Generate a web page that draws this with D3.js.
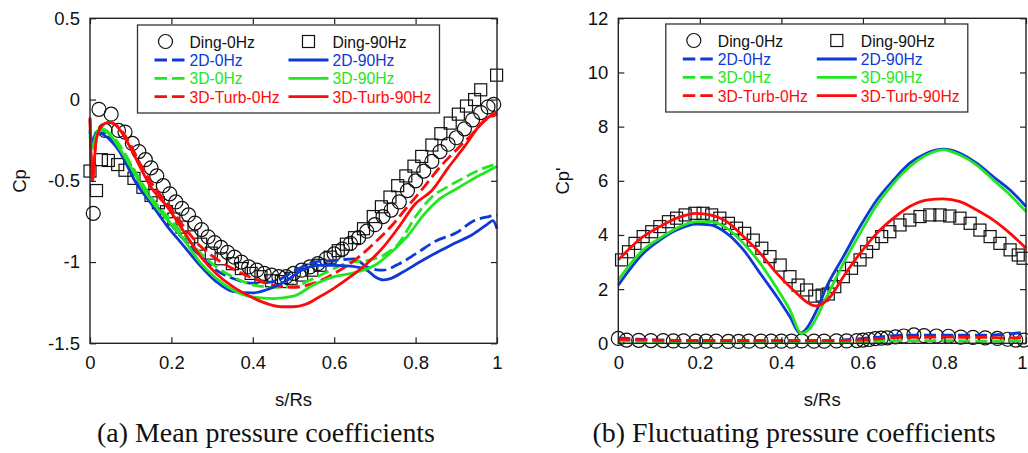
<!DOCTYPE html>
<html><head><meta charset="utf-8">
<script src="https://cdn.jsdelivr.net/npm/d3@7"></script>
<style>body{margin:0;background:#fff}svg{display:block}</style>
</head><body>
<svg id="chart" width="1028" height="453"></svg>
<script>
// ---------- DATA ----------
const xTicks = [0, 0.2, 0.4, 0.6, 0.8, 1];
const meanYTicks = [0.5, 0, -0.5, -1, -1.5];
const flucYTicks = [0, 2, 4, 6, 8, 10, 12];

// (a) Mean pressure coefficients, [s/Rs, Cp]
const meanDing0 = [[0.008,-0.70],[0.022,-0.06],[0.037,-0.19],[0.052,-0.09],[0.07,-0.19],[0.086,-0.20],[0.104,-0.27],[0.12,-0.32],[0.136,-0.37],[0.15,-0.42],[0.164,-0.47],[0.18,-0.53],[0.196,-0.58],[0.211,-0.63],[0.226,-0.67],[0.242,-0.71],[0.258,-0.76],[0.274,-0.80],[0.29,-0.845],[0.306,-0.88],[0.322,-0.91],[0.338,-0.94],[0.355,-0.97],[0.372,-1.00],[0.39,-1.03],[0.41,-1.05],[0.428,-1.07],[0.446,-1.08],[0.464,-1.09],[0.482,-1.09],[0.50,-1.07],[0.52,-1.05],[0.54,-1.03],[0.56,-1.01],[0.58,-0.98],[0.60,-0.95],[0.62,-0.92],[0.64,-0.885],[0.66,-0.85],[0.68,-0.81],[0.70,-0.77],[0.72,-0.72],[0.74,-0.68],[0.76,-0.63],[0.78,-0.56],[0.80,-0.50],[0.82,-0.44],[0.84,-0.38],[0.86,-0.32],[0.88,-0.275],[0.90,-0.235],[0.92,-0.18],[0.94,-0.125],[0.96,-0.08],[0.978,-0.045],[0.992,-0.03]];
const meanDing90 = [[0.0,-0.44],[0.016,-0.56],[0.028,-0.37],[0.045,-0.375],[0.068,-0.40],[0.086,-0.435],[0.108,-0.485],[0.13,-0.54],[0.15,-0.59],[0.168,-0.635],[0.188,-0.69],[0.206,-0.735],[0.226,-0.785],[0.25,-0.845],[0.272,-0.89],[0.298,-0.945],[0.322,-0.98],[0.35,-1.01],[0.372,-1.04],[0.396,-1.07],[0.42,-1.09],[0.446,-1.115],[0.47,-1.12],[0.494,-1.10],[0.52,-1.08],[0.545,-1.05],[0.565,-1.02],[0.59,-0.97],[0.61,-0.93],[0.63,-0.89],[0.65,-0.85],[0.672,-0.795],[0.696,-0.72],[0.716,-0.66],[0.737,-0.60],[0.756,-0.53],[0.776,-0.47],[0.796,-0.41],[0.815,-0.35],[0.84,-0.28],[0.862,-0.21],[0.885,-0.145],[0.905,-0.09],[0.925,-0.04],[0.945,0.0],[0.96,0.06],[0.999,0.15]];
const mean2D0 = [[0,-0.19],[0.005,-0.25],[0.015,-0.2],[0.025,-0.2],[0.05,-0.24],[0.07,-0.30],[0.09,-0.38],[0.11,-0.47],[0.15,-0.61],[0.19,-0.74],[0.23,-0.86],[0.27,-0.96],[0.31,-1.05],[0.35,-1.10],[0.40,-1.13],[0.45,-1.12],[0.50,-1.06],[0.55,-1.0],[0.60,-0.99],[0.65,-0.98],[0.68,-1.03],[0.72,-1.05],[0.76,-1.01],[0.80,-0.95],[0.85,-0.87],[0.90,-0.82],[0.94,-0.75],[0.98,-0.72],[1.0,-0.71]];
const mean2D90 = [[0,-0.20],[0.005,-0.26],[0.015,-0.21],[0.025,-0.21],[0.05,-0.25],[0.07,-0.31],[0.09,-0.40],[0.11,-0.50],[0.15,-0.64],[0.19,-0.78],[0.23,-0.90],[0.27,-1.02],[0.31,-1.12],[0.35,-1.18],[0.40,-1.19],[0.44,-1.165],[0.48,-1.12],[0.52,-1.05],[0.56,-1.02],[0.60,-1.02],[0.64,-1.025],[0.68,-1.05],[0.70,-1.09],[0.72,-1.11],[0.74,-1.10],[0.77,-1.06],[0.81,-1.0],[0.86,-0.93],[0.90,-0.88],[0.94,-0.83],[0.975,-0.77],[0.99,-0.745],[1.0,-0.795]];
const mean3D0 = [[0,-0.2],[0.005,-0.28],[0.015,-0.2],[0.03,-0.18],[0.05,-0.21],[0.07,-0.27],[0.09,-0.35],[0.11,-0.44],[0.15,-0.6],[0.19,-0.72],[0.23,-0.83],[0.27,-0.94],[0.31,-1.03],[0.35,-1.09],[0.40,-1.14],[0.45,-1.155],[0.50,-1.15],[0.55,-1.10],[0.60,-1.04],[0.64,-1.0],[0.68,-0.99],[0.72,-0.96],[0.76,-0.88],[0.80,-0.72],[0.84,-0.60],[0.88,-0.535],[0.92,-0.48],[0.96,-0.43],[1.0,-0.395]];
const mean3D90 = [[0,-0.22],[0.005,-0.30],[0.015,-0.22],[0.03,-0.19],[0.05,-0.22],[0.07,-0.29],[0.09,-0.37],[0.11,-0.46],[0.15,-0.62],[0.19,-0.74],[0.23,-0.86],[0.27,-1.0],[0.31,-1.10],[0.35,-1.17],[0.40,-1.215],[0.45,-1.225],[0.50,-1.21],[0.55,-1.14],[0.60,-1.09],[0.65,-1.065],[0.70,-1.02],[0.74,-0.94],[0.78,-0.84],[0.82,-0.71],[0.86,-0.61],[0.90,-0.55],[0.94,-0.49],[0.97,-0.45],[1.0,-0.41]];
const meanTurb0 = [[0,-0.12],[0.006,-0.48],[0.015,-0.25],[0.03,-0.16],[0.045,-0.14],[0.06,-0.15],[0.08,-0.20],[0.10,-0.28],[0.12,-0.38],[0.15,-0.51],[0.19,-0.64],[0.23,-0.78],[0.27,-0.90],[0.31,-0.98],[0.35,-1.04],[0.40,-1.10],[0.45,-1.14],[0.50,-1.155],[0.55,-1.13],[0.60,-1.07],[0.65,-0.99],[0.70,-0.88],[0.74,-0.78],[0.78,-0.66],[0.82,-0.54],[0.86,-0.415],[0.90,-0.31],[0.94,-0.21],[0.97,-0.13],[1.0,-0.09]];
const meanTurb90 = [[0,-0.11],[0.006,-0.50],[0.015,-0.25],[0.03,-0.16],[0.045,-0.14],[0.06,-0.15],[0.08,-0.21],[0.10,-0.30],[0.12,-0.40],[0.15,-0.54],[0.19,-0.66],[0.23,-0.81],[0.27,-0.96],[0.31,-1.07],[0.35,-1.15],[0.40,-1.22],[0.44,-1.26],[0.47,-1.275],[0.50,-1.275],[0.53,-1.26],[0.56,-1.22],[0.60,-1.16],[0.64,-1.09],[0.68,-1.01],[0.72,-0.91],[0.76,-0.78],[0.80,-0.64],[0.84,-0.56],[0.88,-0.42],[0.92,-0.29],[0.96,-0.15],[1.0,-0.075]];

// (b) Fluctuating pressure coefficients, [s/Rs, Cp']
const flucDing0 = [[0,0.18],[0.02,0.12],[0.05,0.11],[0.08,0.10],[0.11,0.10],[0.135,0.09],[0.16,0.09],[0.19,0.08],[0.215,0.08],[0.24,0.08],[0.27,0.07],[0.295,0.07],[0.32,0.08],[0.35,0.08],[0.375,0.08],[0.40,0.08],[0.425,0.08],[0.45,0.09],[0.48,0.08],[0.505,0.08],[0.535,0.09],[0.56,0.09],[0.585,0.10],[0.60,0.12],[0.615,0.14],[0.63,0.17],[0.645,0.19],[0.66,0.20],[0.68,0.24],[0.70,0.27],[0.725,0.31],[0.75,0.28],[0.78,0.27],[0.81,0.26],[0.84,0.23],[0.87,0.22],[0.90,0.20],[0.93,0.18],[0.955,0.15],[0.975,0.12],[0.995,0.12]];
const flucDing90 = [[0.008,3.08],[0.025,3.38],[0.041,3.69],[0.061,3.94],[0.082,4.12],[0.102,4.31],[0.123,4.49],[0.143,4.62],[0.164,4.74],[0.188,4.80],[0.208,4.80],[0.229,4.74],[0.249,4.62],[0.27,4.43],[0.29,4.25],[0.31,4.06],[0.331,3.81],[0.352,3.51],[0.372,3.20],[0.397,2.89],[0.421,2.46],[0.441,2.15],[0.462,1.97],[0.482,1.74],[0.50,1.78],[0.515,1.82],[0.531,2.09],[0.552,2.46],[0.572,2.77],[0.593,3.08],[0.609,3.38],[0.625,3.69],[0.646,3.94],[0.666,4.12],[0.691,4.37],[0.715,4.55],[0.74,4.68],[0.764,4.74],[0.789,4.74],[0.813,4.70],[0.838,4.62],[0.863,4.43],[0.887,4.18],[0.912,3.94],[0.936,3.69],[0.961,3.45],[0.981,3.26],[0.993,3.14]];
const fluc2D0 = [[0,0.20],[0.05,0.15],[0.1,0.12],[0.2,0.10],[0.3,0.10],[0.4,0.10],[0.5,0.10],[0.55,0.12],[0.6,0.18],[0.65,0.25],[0.7,0.30],[0.75,0.30],[0.8,0.30],[0.85,0.30],[0.9,0.30],[0.95,0.33],[1.0,0.42]];
const fluc2D90 = [[0,2.15],[0.061,3.32],[0.102,3.81],[0.143,4.18],[0.192,4.40],[0.225,4.37],[0.266,4.06],[0.307,3.45],[0.348,2.58],[0.389,1.72],[0.421,0.98],[0.446,0.37],[0.462,0.55],[0.487,1.23],[0.511,2.09],[0.552,3.2],[0.593,4.31],[0.634,5.29],[0.675,6.03],[0.715,6.65],[0.756,7.02],[0.797,7.17],[0.838,7.02],[0.879,6.65],[0.92,6.15],[0.961,5.66],[1.0,5.05]];
const fluc3D0 = [[0,0.10],[0.1,0.05],[0.2,0.04],[0.3,0.05],[0.4,0.05],[0.5,0.05],[0.6,0.06],[0.7,0.10],[0.8,0.10],[0.9,0.08],[1.0,0.10]];
const fluc3D90 = [[0,2.34],[0.061,3.45],[0.102,3.88],[0.143,4.25],[0.192,4.49],[0.225,4.49],[0.266,4.25],[0.307,3.69],[0.348,2.95],[0.389,2.03],[0.421,1.23],[0.449,0.37],[0.47,0.55],[0.511,1.72],[0.552,2.95],[0.593,4.06],[0.634,5.11],[0.675,5.91],[0.715,6.52],[0.756,6.95],[0.797,7.14],[0.838,6.95],[0.879,6.58],[0.92,6.03],[0.961,5.48],[1.0,4.86]];
const flucTurb0 = [[0,0.15],[0.05,0.13],[0.1,0.12],[0.2,0.10],[0.3,0.10],[0.4,0.10],[0.5,0.10],[0.6,0.13],[0.65,0.18],[0.7,0.22],[0.75,0.22],[0.8,0.23],[0.85,0.22],[0.9,0.22],[0.95,0.20],[1.0,0.22]];
const flucTurb90 = [[0,3.08],[0.061,3.94],[0.102,4.31],[0.143,4.62],[0.192,4.80],[0.225,4.74],[0.266,4.49],[0.307,3.94],[0.348,3.32],[0.389,2.58],[0.429,1.97],[0.47,1.45],[0.485,1.38],[0.52,1.72],[0.552,2.46],[0.593,3.32],[0.634,4.06],[0.675,4.62],[0.715,5.05],[0.756,5.29],[0.797,5.33],[0.838,5.23],[0.879,4.92],[0.92,4.55],[0.961,4.06],[1.0,3.51]];

const seriesNames = ["Ding-0Hz","Ding-90Hz","2D-0Hz","2D-90Hz","3D-0Hz","3D-90Hz","3D-Turb-0Hz","3D-Turb-90Hz"];
const BLUE = "#0d3ad6", GREEN = "#22e622", RED = "#ff0a0a";

// ---------- DRAW ----------
const svg = d3.select("#chart");
svg.append("rect").attr("width",1028).attr("height",453).attr("fill","#fff");

function panel(opt){
  const g = svg.append("g");
  const x = d3.scaleLinear().domain([0,1]).range([opt.x0, opt.x1]);
  const y = d3.scaleLinear().domain(opt.yDomain).range([opt.yBottom, opt.yTop]);
  const font = "'Liberation Sans', Arial, sans-serif";

  // markers
  g.append("g").selectAll("circle").data(opt.ding0).join("circle")
    .attr("cx", d=>x(d[0])).attr("cy", d=>y(d[1])).attr("r",7)
    .attr("fill","none").attr("stroke","#111").attr("stroke-width",1.2);
  g.append("g").selectAll("rect").data(opt.ding90).join("rect")
    .attr("x", d=>x(d[0])-6).attr("y", d=>y(d[1])-6).attr("width",12).attr("height",12)
    .attr("fill","none").attr("stroke","#111").attr("stroke-width",1.2);

  const line = d3.line().x(d=>x(d[0])).y(d=>y(d[1])).curve(d3.curveMonotoneX);
  const lines = [
    [opt.s2D0, BLUE, true],[opt.s3D0, GREEN, true],[opt.sT0, RED, true],
    [opt.s2D90, BLUE, false],[opt.s3D90, GREEN, false],[opt.sT90, RED, false]
  ];
  opt.order.forEach(i=>{
    const [data,col,dash] = lines[i];
    g.append("path").attr("d", line(data)).attr("fill","none").attr("stroke",col)
      .attr("stroke-width",2.8).attr("stroke-linejoin","round")
      .attr("stroke-dasharray", dash ? "12,5" : null);
  });

  // axes (inward ticks)
  const ax = (axis, tr) => {
    const a = g.append("g").attr("transform", tr).call(axis);
    a.select(".domain").remove();
    a.selectAll("line").attr("stroke","#222").attr("stroke-width",1.2);
    a.selectAll("text").attr("font-family",font).attr("font-size","18.5px").attr("fill","#111");
    return a;
  };
  const bx = ax(d3.axisBottom(x).tickValues(xTicks).tickSize(-6).tickPadding(13).tickFormat(d3.format("")), `translate(0,${opt.yBottom})`);
  if (opt.shiftLast) bx.selectAll("text").filter(d=>d===1).attr("dx", -4);
  ax(d3.axisTop(x).tickValues(xTicks).tickSize(-6).tickFormat(""), `translate(0,${opt.yTop})`);
  ax(d3.axisLeft(y).tickValues(opt.yTicks).tickSize(-6).tickPadding(10).tickFormat(d=>String(d).replace("\u2212","-")), `translate(${opt.x0},0)`);
  ax(d3.axisRight(y).tickValues(opt.yTicks).tickSize(-6).tickFormat(""), `translate(${opt.x1},0)`);
  g.append("rect").attr("x",opt.x0).attr("y",opt.yTop).attr("width",opt.x1-opt.x0).attr("height",opt.yBottom-opt.yTop)
    .attr("fill","none").attr("stroke","#222").attr("stroke-width",1.4);

  // axis titles
  const cx = (opt.x0+opt.x1)/2;
  g.append("text").attr("x",cx).attr("y",406).attr("text-anchor","middle")
    .attr("font-family",font).attr("font-size","18.5px").attr("fill","#111").text("s/Rs");
  g.append("text").attr("transform",`translate(${opt.yLabelX},181) rotate(-90)`).attr("text-anchor","middle")
    .attr("font-family",font).attr("font-size","18.5px").attr("fill","#111").text(opt.yLabel);

  // caption
  g.append("text").attr("x",opt.capX).attr("y",442).attr("text-anchor","middle")
    .attr("font-family","'Liberation Serif','Times New Roman',serif").attr("font-size","27.9px").attr("fill","#111").text(opt.caption);

  // legend
  const L = opt.x0 + 47.5, T = opt.legTop;
  const lg = g.append("g");
  lg.append("rect").attr("x",L).attr("y",T).attr("width",302).attr("height",88)
    .attr("fill","#fff").attr("stroke","#333").attr("stroke-width",1.3);
  const rows = [T+22.5, T+41, T+59.3, T+77.6];
  const c1 = L+52, c2 = L+195;
  lg.append("circle").attr("cx",L+28).attr("cy",rows[0]-6).attr("r",7).attr("fill","none").attr("stroke","#111").attr("stroke-width",1.2);
  lg.append("rect").attr("x",L+165).attr("y",rows[0]-12).attr("width",12).attr("height",12).attr("fill","none").attr("stroke","#111").attr("stroke-width",1.2);
  const items = [
    [seriesNames[0], "#111", c1, rows[0], null],
    [seriesNames[1], "#111", c2, rows[0], null],
    [seriesNames[2], BLUE, c1, rows[1], "dash"],
    [seriesNames[3], BLUE, c2, rows[1], "solid"],
    [seriesNames[4], GREEN, c1, rows[2], "dash"],
    [seriesNames[5], GREEN, c2, rows[2], "solid"],
    [seriesNames[6], RED, c1, rows[3], "dash"],
    [seriesNames[7], RED, c2, rows[3], "solid"]
  ];
  items.forEach(([name,col,tx,ty,kind])=>{
    if (kind==="dash") {
      lg.append("line").attr("x1",L+17).attr("x2",L+47).attr("y1",ty-6).attr("y2",ty-6)
        .attr("stroke",col).attr("stroke-width",2.8).attr("stroke-dasharray","12.5,5");
    } else if (kind==="solid") {
      lg.append("line").attr("x1",L+151).attr("x2",L+191).attr("y1",ty-6).attr("y2",ty-6)
        .attr("stroke",col).attr("stroke-width",2.8);
    }
    lg.append("text").attr("x",tx).attr("y",ty).attr("font-family",font).attr("font-size","15.7px")
      .attr("fill",col).text(name);
  });
}

panel({
  x0:90, x1:497, yTop:18.3, yBottom:343.3, yDomain:[-1.5,0.5], yTicks:meanYTicks,
  ding0:meanDing0, ding90:meanDing90,
  s2D0:mean2D0, s2D90:mean2D90, s3D0:mean3D0, s3D90:mean3D90, sT0:meanTurb0, sT90:meanTurb90,
  order:[0,1,2,3,4,5], shiftLast:false,
  yLabel:"Cp", yLabelX:26, caption:"(a) Mean pressure coefficients", capX:266, legTop:25
});
panel({
  x0:618.3, x1:1026, yTop:18.3, yBottom:343.3, yDomain:[0,12], yTicks:flucYTicks,
  ding0:flucDing0, ding90:flucDing90,
  s2D0:fluc2D0, s2D90:fluc2D90, s3D0:fluc3D0, s3D90:fluc3D90, sT0:flucTurb0, sT90:flucTurb90,
  order:[1,0,2,3,4,5], shiftLast:true,
  yLabel:"Cp'", yLabelX:569, caption:"(b) Fluctuating pressure coefficients", capX:794, legTop:24
});
</script>
</body></html>
